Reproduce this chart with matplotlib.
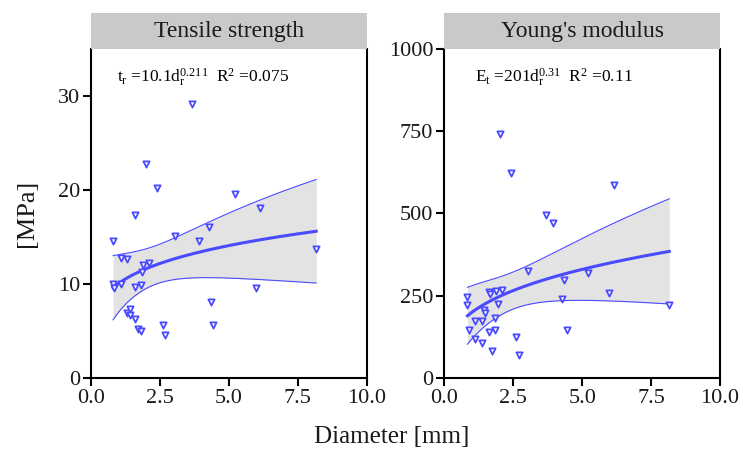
import matplotlib.pyplot as plt
import numpy as np

plt.rcParams['font.family'] = ['Liberation Serif', 'DejaVu Serif']
plt.rcParams['mathtext.fontset'] = 'custom'
plt.rcParams['mathtext.rm'] = 'Liberation Serif'

# tensile strength [MPa] vs diameter [mm]
ts_diam = [0.80, 0.81, 0.85, 1.08, 1.08, 1.32, 1.32, 1.42, 1.43, 1.61, 1.61, 1.61,
           1.69, 1.80, 1.82, 1.86, 1.90, 2.01, 2.09, 2.40, 2.60, 2.69, 3.03, 3.68,
           3.92, 4.27, 4.34, 4.44, 5.22, 5.98, 6.14, 8.17]
ts_val = [14.6, 10.0, 9.6, 12.8, 10.0, 12.7, 6.9, 6.7, 7.3, 17.3, 9.7, 6.3,
          5.2, 5.0, 9.9, 11.3, 12.0, 22.8, 12.2, 20.2, 5.6, 4.6, 15.1, 29.1,
          14.6, 16.1, 8.1, 5.6, 19.6, 9.6, 18.1, 13.7]

# Young's modulus [MPa] vs diameter [mm]
ym_diam = [0.84, 0.84, 0.88, 1.11, 1.12, 1.36, 1.37, 1.45, 1.49, 1.63, 1.63, 1.66,
           1.72, 1.83, 1.84, 1.87, 1.95, 2.02, 2.09, 2.42, 2.61, 2.70, 3.04, 3.69,
           3.93, 4.28, 4.35, 4.45, 5.22, 5.98, 6.14, 8.16]
ym_val = [247, 222, 145, 174, 119, 172, 106, 206, 197, 262, 141, 254,
          82, 145, 183, 264, 224, 742, 267, 623, 126, 71, 326, 494,
          470, 239, 298, 145, 319, 258, 587, 222]

panels = ['Tensile strength', "Young's modulus"]
labels = [r'$\mathregular{t_r}$ =10.1$\mathregular{d_r^{0.211}}$  $\mathregular{R^2}$ =0.075',
          r'$\mathregular{E_t}$ =201$\mathregular{d_r^{0.31}}$  $\mathregular{R^2}$ =0.11']
ylims = [(0, 35), (0, 1000)]
yticks = [[0, 10, 20, 30], [0, 250, 500, 750, 1000]]

blue = '#4a4aff'


def power_fit(x, y):
    # y = a * x^b by nonlinear least squares, with 95% band on the mean
    x = np.asarray(x, float)
    y = np.asarray(y, float)
    b, la = np.polyfit(np.log(x), np.log(y), 1)
    a = np.exp(la)
    for _ in range(100):
        f = a * x ** b
        J = np.column_stack([x ** b, a * x ** b * np.log(x)])
        step = np.linalg.lstsq(J, y - f, rcond=None)[0]
        a += step[0]
        b += step[1]
    f = a * x ** b
    J = np.column_stack([x ** b, a * x ** b * np.log(x)])
    s2 = np.sum((y - f) ** 2) / (len(x) - 2)
    cov = s2 * np.linalg.inv(J.T @ J)
    xs = np.linspace(x.min(), x.max(), 200)
    fs = a * xs ** b
    G = np.column_stack([xs ** b, a * xs ** b * np.log(xs)])
    se = np.sqrt(np.einsum('ij,jk,ik->i', G, cov, G))
    return xs, fs, fs - 2.042 * se, fs + 2.042 * se


fig = plt.figure(figsize=(7.43, 4.54), dpi=100)
lefts = [0.1225, 0.598]
data = [(ts_diam, ts_val), (ym_diam, ym_val)]
text_x = [0.093, 0.111]

for i in range(2):
    ax = fig.add_axes([lefts[i], 0.1674, 0.371, 0.7247])
    x, y = data[i]
    xs, fs, lo, hi = power_fit(x, y)
    ax.fill_between(xs, lo, hi, color='#e3e3e3', lw=0, zorder=1)
    ax.plot(xs, lo, color=blue, lw=0.8, zorder=2)
    ax.plot(xs, hi, color=blue, lw=0.8, zorder=2)
    ax.plot(xs, fs, color=blue, lw=2.2, zorder=3)
    ax.scatter(x, y, marker='v', s=20, facecolors='white', edgecolors=blue,
               linewidths=1.3, zorder=4)
    ax.set_xlim(0, 10)
    ax.set_ylim(*ylims[i])
    ax.set_xticks([0, 2.5, 5, 7.5, 10])
    ax.set_xticklabels(['0.0', '2.5', '5.0', '7.5', '10.0'])
    ax.set_yticks(yticks[i])
    ax.spines['top'].set_visible(False)
    for s in ['left', 'right', 'bottom']:
        ax.spines[s].set_linewidth(1.5)
    ax.tick_params(direction='out', length=6, width=1.5, labelsize=16, pad=2,
                   colors='black', labelcolor='#1a1a1a')
    ax.text(text_x[i], 0.915, labels[i], transform=ax.transAxes, fontsize=12.5,
            ha='left', va='center')

    strip = fig.add_axes([lefts[i], 0.892, 0.371, 0.0793])
    strip.set_facecolor('#c9c9c9')
    for s in strip.spines.values():
        s.set_visible(False)
    strip.set_xticks([])
    strip.set_yticks([])
    strip.text(0.5, 0.5, panels[i], transform=strip.transAxes, ha='center',
               va='center', fontsize=17, color='#1a1a1a')

fig.text(0.527, 0.037, 'Diameter [mm]', ha='center', va='center', fontsize=18,
         color='#1a1a1a')
fig.text(0.036, 0.531, '[MPa]', ha='center', va='center', rotation=90,
         fontsize=19, color='#1a1a1a')

fig.savefig('out.png', dpi=100)
